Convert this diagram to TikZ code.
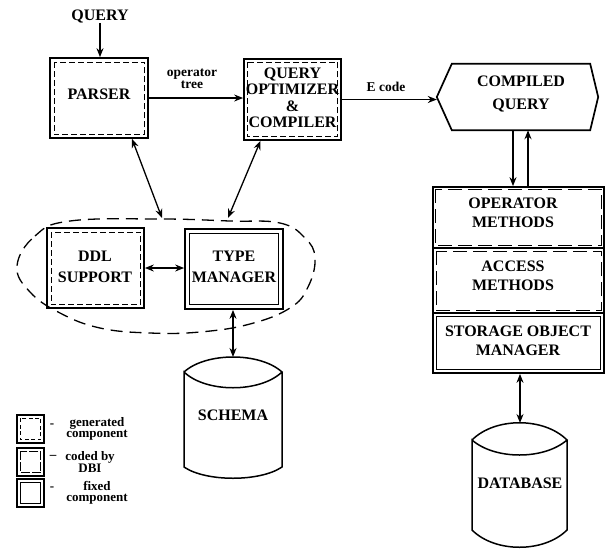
\documentclass[tikz,border=0pt]{standalone}
\usepackage{fontspec}
\setmainfont{Liberation Serif}
\usetikzlibrary{arrows.meta}
\begin{document}
\begin{tikzpicture}[x=1pt,y=-1pt,
  outer/.style={draw, line width=1.7pt, inner sep=0pt},
  sdash/.style={line width=1.1pt, dash pattern=on 6pt off 3pt},
  ldash/.style={line width=1.1pt, dash pattern=on 14pt off 6pt},
  innerline/.style={line width=1.1pt},
  lbl/.style={font=\fontsize{16}{18}\selectfont\bfseries, align=center, inner sep=0pt},
  small/.style={font=\fontsize{13.5}{12.5}\selectfont\bfseries, align=center, inner sep=0pt},
  leg/.style={font=\fontsize{13}{11.5}\selectfont\bfseries, align=center, inner sep=0pt},
  arr/.style={line width=1.3pt, -{Stealth[length=9pt,width=7pt]}},
  arrr/.style={line width=1.3pt, {Stealth[length=9pt,width=7pt]}-{Stealth[length=9pt,width=7pt]}},
  blob/.style={line width=1.3pt, dash pattern=on 12pt off 7pt},
]
\useasboundingbox (0,0) rectangle (606,550);

% QUERY input
\node[lbl] (query) at (100,16) {QUERY};

% PARSER
\node[outer, minimum width=98pt, minimum height=80pt] (parser) at (99,98) {};
\draw[sdash] ([shift={(5,5)}]parser.north west) rectangle ([shift={(-4,-4)}]parser.south east);
\node[lbl] (parsertxt) at (99,94) {PARSER};
\draw[arr] (query.south) -- (query.south |- parser.north);

% QUERY OPTIMIZER & COMPILER
\node[outer, minimum width=97pt, minimum height=81pt] (qoc) at (292.5,99.5) {};
\draw[sdash] ([shift={(4,4)}]qoc.north west) rectangle ([shift={(-4,-4)}]qoc.south east);
\node[lbl, font=\fontsize{16}{16.5}\selectfont\bfseries] (qoctxt) at (292.5,98) {QUERY\\OPTIMIZER\\\&\\COMPILER};

\node[small] (optree) at (192,79) {operator\\tree};
\draw[arr] (parser.east) -- (parser.east -| qoc.west);

% COMPILED QUERY
\node[minimum width=138pt, minimum height=66pt, inner sep=0pt] (cq) at (521,97) {};
\coordinate (cqtip) at ([xshift=-15pt]cq.west);
\draw[line width=1.7pt, line join=miter] (cq.north west) -- (cq.north east) -- ([xshift=8pt]cq.east) -- (cq.south east) -- (cq.south west) -- (cqtip) -- cycle;
\node[lbl, font=\fontsize{16}{23}\selectfont\bfseries] (cqtxt) at (521,93.5) {COMPILED\\QUERY};
\node[small] (ecode) at (386,87) {E code};
\draw[arr] (qoc.east) -- (qoc.east -| cqtip);

% right stack
\node[outer, minimum width=171pt, minimum height=61pt] (opm) at (518.5,217.5) {};
\node[outer, minimum width=171pt, minimum height=65pt] (acm) at (518.5,280.5) {};
\node[outer, minimum width=171pt, minimum height=60pt] (som) at (518.5,343) {};
\draw[ldash] ([shift={(3,3)}]opm.north west) rectangle ([shift={(-3,-3)}]opm.south east);
\draw[ldash] ([shift={(4,4)}]acm.north west) rectangle ([shift={(-3,-3)}]acm.south east);
\draw[innerline] ([shift={(4,4)}]som.north west) rectangle ([shift={(-4,-4)}]som.south east);
\node[lbl, font=\fontsize{16}{19}\selectfont\bfseries] (opmtxt) at (513,212.5) {OPERATOR\\METHODS};
\node[lbl, font=\fontsize{16}{19}\selectfont\bfseries] (acmtxt) at (513,276) {ACCESS\\METHODS};
\node[lbl, font=\fontsize{16}{19}\selectfont\bfseries] (somtxt) at (518,341) {STORAGE OBJECT\\MANAGER};

\draw[arr] ([xshift=-8pt]cq.south) -- ([xshift=-8pt]cq.south |- opm.north);
\draw[arr] ([xshift=7pt]cq.south |- opm.north) -- ([xshift=7pt]cq.south);

% DATABASE
\coordinate (dbtop) at (520,423);
\draw[line width=1.5pt] (472,440) .. controls (495,417) and (544,417) .. (567,440)
  .. controls (544,460) and (495,460) .. (472,440) -- (472,530)
  .. controls (495,553) and (544,553) .. (567,530) -- (567,440);
\node[lbl] (db) at (520,483) {DATABASE};
\draw[arrr] (dbtop |- som.south) -- (dbtop);

% DDL SUPPORT and TYPE MANAGER
\node[outer, minimum width=97pt, minimum height=80pt] (ddl) at (95.5,268) {};
\draw[sdash] ([shift={(5,5)}]ddl.north west) rectangle ([shift={(-4,-4)}]ddl.south east);
\node[lbl, font=\fontsize{16}{21}\selectfont\bfseries] (ddltxt) at (95,266.5) {DDL\\SUPPORT};
\node[outer, minimum width=98pt, minimum height=80pt] (tm) at (234,269) {};
\draw[innerline] ([shift={(5,5)}]tm.north west) rectangle ([shift={(-5,-5)}]tm.south east);
\node[lbl, font=\fontsize{16}{21}\selectfont\bfseries] (tmtxt) at (234,266.5) {TYPE\\MANAGER};
\draw[arrr] (ddl.east) -- (ddl.east -| tm.west);

% dashed enclosure
\draw[blob] plot[smooth cycle, tension=0.7] coordinates {(17,266) (35,236) (70,221) (160,219) (230,221) (280,223) (305,238) (315,258) (308,287) (290,308) (250,324) (200,332) (150,333) (100,328) (60,313) (30,292)};
\coordinate (blobA) at (162,218);
\coordinate (blobB) at (228,218);
\draw[arrr] ([xshift=33pt]parser.south) -- (blobA);
\draw[arrr] ([xshift=-32pt]qoc.south) -- (blobB);

% SCHEMA
\coordinate (schtop) at (233,357);
\draw[line width=1.5pt] (184,372) .. controls (206,352) and (260,352) .. (282,372)
  .. controls (260,393) and (206,393) .. (184,372) -- (184,467)
  .. controls (206,482) and (260,482) .. (282,467) -- (282,372);
\node[lbl] (schema) at (233,415) {SCHEMA};
\draw[arrr] (tm.south -| schtop) -- (schtop);

% legend
\node[outer, line width=1.5pt, minimum width=27pt, minimum height=28pt] (lg1) at (30.5,429) {};
\draw[line width=1pt, dash pattern=on 4pt off 2.5pt] ([shift={(4,4)}]lg1.north west) rectangle ([shift={(-4,-4)}]lg1.south east);
\node[outer, line width=1.5pt, minimum width=27pt, minimum height=28pt] (lg2) at (30.5,462) {};
\draw[line width=1pt, dash pattern=on 9pt off 2pt] ([shift={(4,4)}]lg2.north west) rectangle ([shift={(-4,-4)}]lg2.south east);
\node[outer, line width=1.5pt, minimum width=27pt, minimum height=28pt] (lg3) at (30.5,493) {};
\draw[line width=1pt] ([shift={(4,4)}]lg3.north west) rectangle ([shift={(-4,-4)}]lg3.south east);

\node[leg] (d1) at (52,426) {-};
\node[leg] (t1) at (97,429) {generated\\component};
\node[leg] (d2) at (53,455) {\_};
\node[leg] (t2) at (90,462) {coded by\\DBI};
\node[leg] (d3) at (52,489) {-};
\node[leg] (t3) at (97,493) {fixed\\component};
\end{tikzpicture}
\end{document}
